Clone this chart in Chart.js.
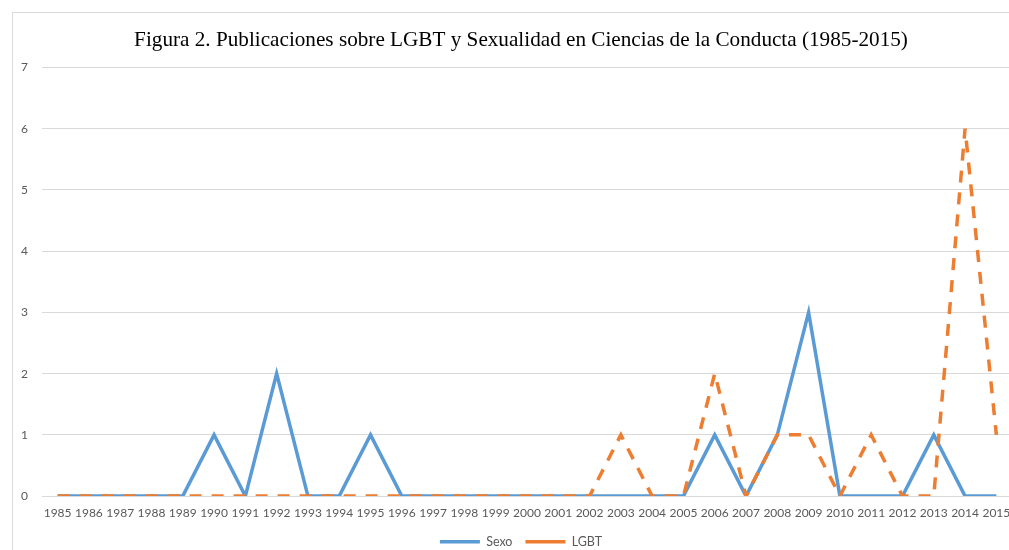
<!DOCTYPE html>
<html>
<head>
<meta charset="utf-8">
<script src="https://cdn.jsdelivr.net/npm/chart.js@4"></script>
<style>
  html, body { margin: 0; padding: 0; background: #fff; overflow: hidden; }
  #box {
    position: absolute; left: 12px; top: 12px;
    width: 1022px; height: 560px;
    border: 1px solid #d9d9d9; background: #fff;
  }
</style>
</head>
<body>
<div id="box"><canvas id="graph" width="1022" height="545"></canvas></div>
<script>
const years = ["1985","1986","1987","1988","1989","1990","1991","1992","1993","1994","1995","1996","1997","1998","1999","2000","2001","2002","2003","2004","2005","2006","2007","2008","2009","2010","2011","2012","2013","2014","2015"]
const sexo = [0,0,0,0,0,1,0,2,0,0,1,0,0,0,0,0,0,0,0,0,0,1,0,1,3,0,0,0,1,0,0]
const lgbt = [0,0,0,0,0,0,0,0,0,0,0,0,0,0,0,0,0,0,1,0,0,2,0,1,1,0,1,0,0,6,1]
const yTicks = [0,1,2,3,4,5,6,7]

const gray = "#595959"

var ctx = document.getElementById("graph").getContext("2d")
var chart = new Chart(ctx, {
    type: "line",
    data: {
        labels: years,
        datasets: [{
            label: "Sexo",
            data: sexo,
            borderColor: "#5b9bd5",
            backgroundColor: "#5b9bd5",
            borderWidth: 3.5,
            pointRadius: 0,
            tension: 0,
            order: 1
        }, {
            label: "LGBT",
            data: lgbt,
            borderColor: "#ed7d31",
            backgroundColor: "#ed7d31",
            borderWidth: 3.5,
            borderDash: [12, 10],
            pointRadius: 0,
            tension: 0,
            order: 0
        }]
    },
    options: {
        responsive: false,
        animation: false,
        layout: { padding: { left: -6, right: 0, top: 9, bottom: 0 } },
        plugins: {
            title: {
                display: true,
                text: "Figura 2. Publicaciones sobre LGBT y Sexualidad en Ciencias de la Conducta (1985-2015)",
                color: "#000",
                font: { family: "'Liberation Serif', 'Times New Roman', serif", size: 21.2, weight: "normal" },
                padding: { top: 6, bottom: 14 }
            },
            legend: {
                position: "bottom",
                labels: {
                    usePointStyle: true,
                    pointStyle: "line",
                    pointStyleWidth: 40,
                    color: gray,
                    font: { family: "Lato, 'Open Sans', sans-serif", size: 12.5 },
                    padding: 13,
                    sort: (a, b) => a.datasetIndex - b.datasetIndex
                }
            },
            tooltip: { enabled: false }
        },
        scales: {
            x: {
                offset: true,
                grid: { display: false },
                border: { display: false },
                ticks: {
                    color: gray,
                    font: { family: "Lato, 'Open Sans', sans-serif", size: 12 },
                    maxRotation: 0,
                    autoSkip: false,
                    padding: 2
                }
            },
            y: {
                min: 0,
                max: 7,
                afterBuildTicks: (axis) => { axis.ticks = yTicks.map(v => ({ value: v })) },
                grid: { color: "#d9d9d9", lineWidth: 1, drawTicks: false },
                border: { display: false },
                ticks: {
                    color: gray,
                    font: { family: "Lato, 'Open Sans', sans-serif", size: 12 },
                    padding: 14
                }
            },
            // empty strip on the right, the plot area ends before the chart box does
            right: {
                position: "right",
                min: 0,
                max: 7,
                grid: { display: false },
                border: { display: false },
                ticks: { display: false },
                afterFit: (axis) => { axis.width = 23 }
            }
        }
    }
})
</script>
</body>
</html>
